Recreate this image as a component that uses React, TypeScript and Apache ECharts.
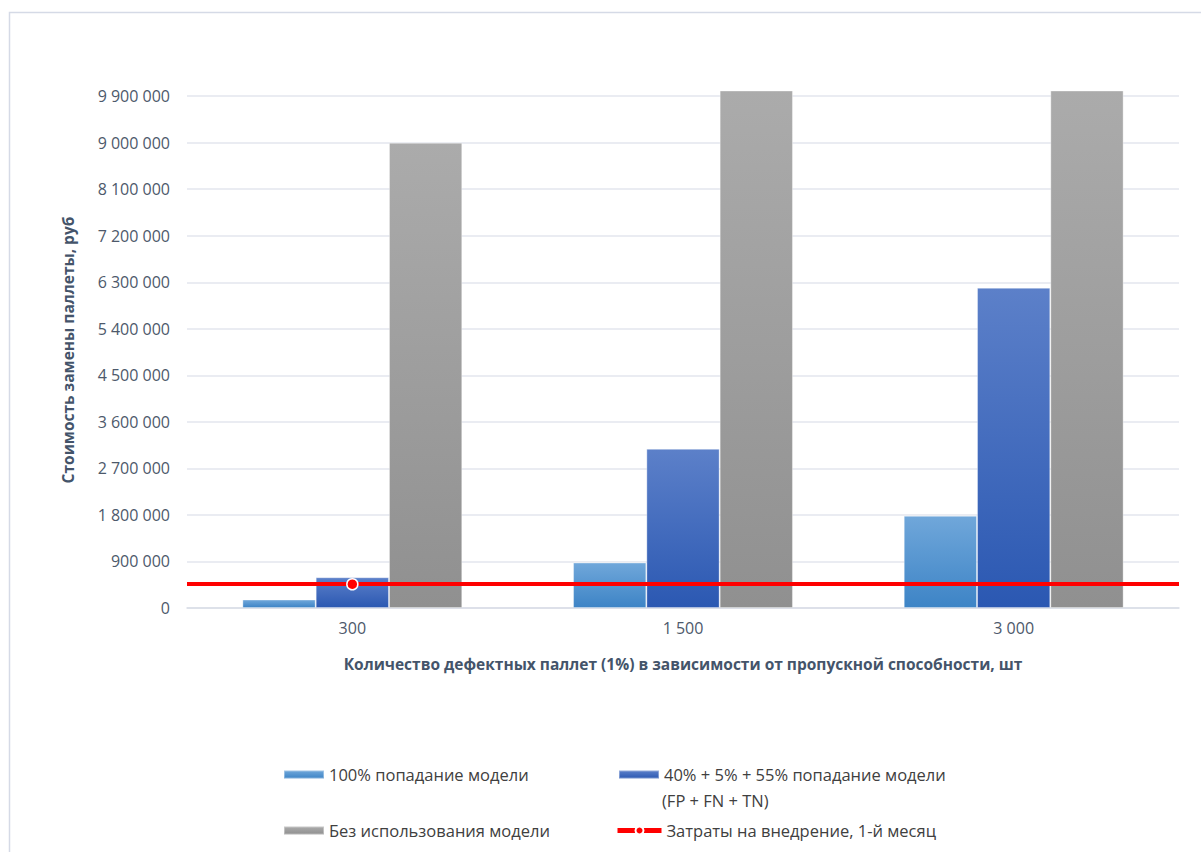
import React, { useEffect, useRef } from "react";
import * as echarts from "echarts";

const categories = ["300", "1 500", "3 000"];
const seriesNames = [
  "100% попадание модели",
  "40% + 5% + 55% попадание модели (FP + FN + TN)",
  "Без использования модели",
  "Затраты на внедрение, 1-й месяц",
];
const legendFirstLine = "40% + 5% + 55% попадание модели";
const legendSecondLine = "(FP + FN + TN)";
const perfectModel = [165000, 880000, 1785000];
const mixedModel = [595000, 3080000, 6195000];
const noModel = [9000000, 45000000, 90000000];
const implementationCost = [460000];
const yMin = 0;
const yMax = 10000000;
const yInterval = 900000;
const yLastLabel = 9900000;

const xTitle = "Количество дефектных паллет (1%) в зависимости от пропускной способности, шт";
const yTitle = "Стоимость замены паллеты, руб";

const fmt = (v: number) => String(v).replace(/\B(?=(\d{3})+(?!\d))/g, " ");

const grad = (top: string, bottom: string) =>
  new echarts.graphic.LinearGradient(0, 0, 0, 1, [
    { offset: 0, color: top },
    { offset: 1, color: bottom },
  ]);

const TEXT = "#44546A";
const FONT = "'Open Sans', 'Noto Sans', sans-serif";
const GRID = "#e3e6ee";

export default function App() {
  const ref = useRef<HTMLDivElement>(null);
  useEffect(() => {
    if (!ref.current) return;
    const chart = echarts.init(ref.current, null, { renderer: "svg" });
    const legendBase = {
      orient: "vertical" as const,
      itemWidth: 40,
      itemHeight: 8,
      itemGap: 0,
      padding: 0,
      icon: "rect",
      textStyle: { color: "#404040", fontSize: 16.5, fontFamily: FONT },
    };
    const gridColors: string[] = [];
    for (let v = yMin; v <= yLastLabel; v += yInterval) gridColors.push(GRID);
    gridColors.push("rgba(0,0,0,0)");
    chart.setOption({
      animation: false,
      backgroundColor: "#ffffff",
      textStyle: { fontFamily: FONT },
      grid: { left: 187, right: 22, top: 91, bottom: 244, containLabel: false },
      graphic: [
        {
          type: "rect",
          silent: true,
          shape: { x: 9.5, y: 12.5, width: 1400, height: 1000 },
          style: { fill: "none", stroke: "#d5dae6", lineWidth: 1.5 },
        },
        {
          type: "text",
          silent: true,
          x: 68,
          y: 350,
          rotation: Math.PI / 2,
          style: {
            text: yTitle,
            fill: TEXT,
            font: `bold 15.5px ${FONT}`,
            textAlign: "center",
            textVerticalAlign: "middle",
          },
        },
        {
          type: "text",
          silent: true,
          x: 662,
          y: 800,
          style: {
            text: legendSecondLine,
            fill: "#404040",
            font: `16.5px ${FONT}`,
            textAlign: "left",
            textVerticalAlign: "middle",
          },
        },
      ],
      legend: [
        { ...legendBase, left: 283, top: 766, data: [seriesNames[0]] },
        {
          ...legendBase,
          left: 618,
          top: 766,
          data: [seriesNames[1]],
          formatter: () => legendFirstLine,
        },
        { ...legendBase, left: 283, top: 822, data: [seriesNames[2]] },
        {
          ...legendBase,
          icon: undefined,
          left: 615,
          top: 822,
          itemWidth: 44,
          itemHeight: 10,
          data: [seriesNames[3]],
          lineStyle: { width: 5 },
        },
      ],
      xAxis: {
        type: "category",
        data: categories,
        axisLine: { show: true, lineStyle: { color: "#d9dde6", width: 1.5 } },
        axisTick: { show: false },
        axisLabel: { color: "#4d596b", fontSize: 16, margin: 12, fontFamily: FONT },
        name: xTitle,
        nameLocation: "middle",
        nameGap: 48,
        nameTextStyle: { color: TEXT, fontSize: 15.5, fontWeight: "bold", fontFamily: FONT },
      },
      yAxis: {
        type: "value",
        min: yMin,
        max: yMax,
        interval: yInterval,
        axisLine: { show: false },
        axisTick: { show: false },
        splitLine: { lineStyle: { color: gridColors, width: 1.5 } },
        axisLabel: {
          color: "#4d596b",
          fontSize: 16,
          margin: 17,
          fontFamily: FONT,
          showMaxLabel: false,
          formatter: (v: number) => (v > yLastLabel ? "" : fmt(v)),
        },
      },
      series: [
        {
          name: seriesNames[0],
          type: "bar",
          data: perfectModel,
          barGap: "0%",
          barCategoryGap: "33.5%",
          itemStyle: { color: grad("#70a7da", "#3d84c6"), borderColor: "rgba(255,255,255,0.35)", borderWidth: 1 },
        },
        {
          name: seriesNames[1],
          type: "bar",
          data: mixedModel,
          barGap: "0%",
          barCategoryGap: "33.5%",
          itemStyle: { color: grad("#5c80c9", "#2b58b2"), borderColor: "rgba(255,255,255,0.35)", borderWidth: 1 },
        },
        {
          name: seriesNames[2],
          type: "bar",
          data: noModel,
          barGap: "0%",
          barCategoryGap: "33.5%",
          itemStyle: { color: grad("#ababab", "#909090"), borderColor: "rgba(255,255,255,0.35)", borderWidth: 1 },
        },
        {
          name: seriesNames[3],
          type: "line",
          data: [implementationCost[0], "-", "-"],
          symbol: "circle",
          symbolSize: 11,
          z: 10,
          itemStyle: { color: "#ff0000", borderColor: "#ffffff", borderWidth: 1.5 },
          lineStyle: { color: "#ff0000", width: 4 },
          markLine: {
            silent: true,
            symbol: ["none", "none"],
            label: { show: false },
            lineStyle: { color: "#ff0000", width: 4, type: "solid" },
            data: [{ yAxis: implementationCost[0] }],
          },
        },
      ],
    });
    return () => chart.dispose();
  }, []);
  return (
    <div
      ref={ref}
      style={{ position: "absolute", left: 0, top: 0, width: 1201, height: 852 }}
    />
  );
}
